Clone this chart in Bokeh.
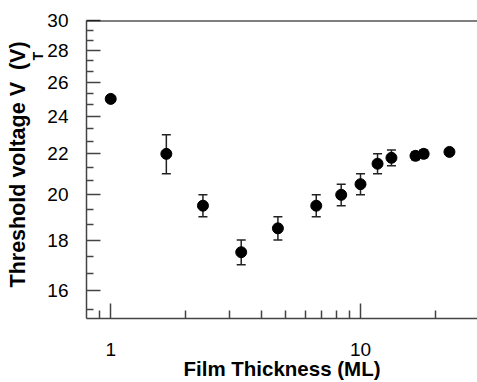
from bokeh.plotting import figure
from bokeh.models import (FixedTicker, PrintfTickFormatter, Whisker, TeeHead,
                          ColumnDataSource, Span, Title)
from bokeh.embed import file_html
from bokeh.resources import INLINE

# data
thickness = [1.0, 1.67, 2.34, 3.33, 4.67, 6.65, 8.37, 10.0, 11.7, 13.3, 16.6, 17.9, 22.7]
vt = [25.0, 22.0, 19.5, 17.5, 18.5, 19.5, 20.0, 20.5, 21.5, 21.8, 21.9, 22.0, 22.1]
vt_err = [0.15, 1.0, 0.5, 0.5, 0.5, 0.5, 0.5, 0.5, 0.5, 0.4, 0.2, 0.2, 0.1]

x_major = [1, 10]
x_minor = [0.9, 2, 3, 4, 5, 6, 7, 8, 9, 20]
y_major = [16, 18, 20, 22, 24, 26, 28, 30]
y_minor = [15 + 1/3] + [v + d for v in y_major[:-1] for d in (2/3, 4/3)]

FONT = "Liberation Sans"
AX = "#444444"

p = figure(width=477, height=382, x_axis_type="log", y_axis_type="log",
           x_range=(0.8, 29.4), y_range=(15, 30),
           output_backend="svg", toolbar_location=None,
           min_border_left=86, min_border_right=0, min_border_top=20,
           min_border_bottom=61)
p.outline_line_color = None
p.grid.visible = False
p.background_fill_color = "white"

lower = [v - e for v, e in zip(vt, vt_err)]
upper = [v + e for v, e in zip(vt, vt_err)]
src = ColumnDataSource(dict(x=thickness, y=vt, lo=lower, hi=upper))

w = Whisker(base="x", lower="lo", upper="hi", source=src,
            line_color="#222222", line_width=1.5,
            upper_head=TeeHead(size=9, line_color="#222222", line_width=1.5),
            lower_head=TeeHead(size=9, line_color="#222222", line_width=1.5))
p.add_layout(w)
p.scatter("x", "y", source=src, size=11, color="black")

p.add_layout(Span(location=30, dimension="width", line_color="black", line_width=2))

for ax in (p.xaxis[0], p.yaxis[0]):
    ax.axis_line_color = AX
    ax.axis_line_width = 1.5
    ax.major_tick_line_color = AX
    ax.minor_tick_line_color = AX
    ax.major_tick_line_width = 1.5
    ax.minor_tick_line_width = 1.5
    ax.major_tick_out = 0
    ax.minor_tick_out = 0
    ax.major_label_text_font = FONT
    ax.major_label_text_font_size = "19px"
    ax.major_label_text_color = "black"
    ax.formatter = PrintfTickFormatter(format="%d")

p.xaxis.ticker = FixedTicker(ticks=x_major, minor_ticks=x_minor)
p.yaxis.ticker = FixedTicker(ticks=y_major, minor_ticks=y_minor)
p.xaxis.major_tick_in = 15
p.xaxis.minor_tick_in = 8
p.yaxis.major_tick_in = 14
p.yaxis.minor_tick_in = 7
p.xaxis.major_label_standoff = 24
p.yaxis.major_label_standoff = 18

p.xaxis.axis_label = "Film Thickness (ML)"
p.xaxis.axis_label_text_font = FONT
p.xaxis.axis_label_text_font_size = "20.5px"
p.xaxis.axis_label_text_font_style = "bold"
p.xaxis.axis_label_text_color = "black"
p.xaxis.axis_label_standoff = -2

# y axis label with subscript T: two stacked side titles
sub = Title(text="T", align="left", offset=258, standoff=-3,
            text_font=FONT, text_font_size="14px", text_font_style="bold",
            text_color="black")
main = Title(text="Threshold voltage V\u00a0\u00a0(V)", align="left", offset=31,
             standoff=-1, text_font=FONT, text_font_size="21.5px",
             text_font_style="bold", text_color="black")
p.add_layout(sub, "left")
p.add_layout(main, "left")

open("out.html", "w").write(file_html(p, INLINE))
